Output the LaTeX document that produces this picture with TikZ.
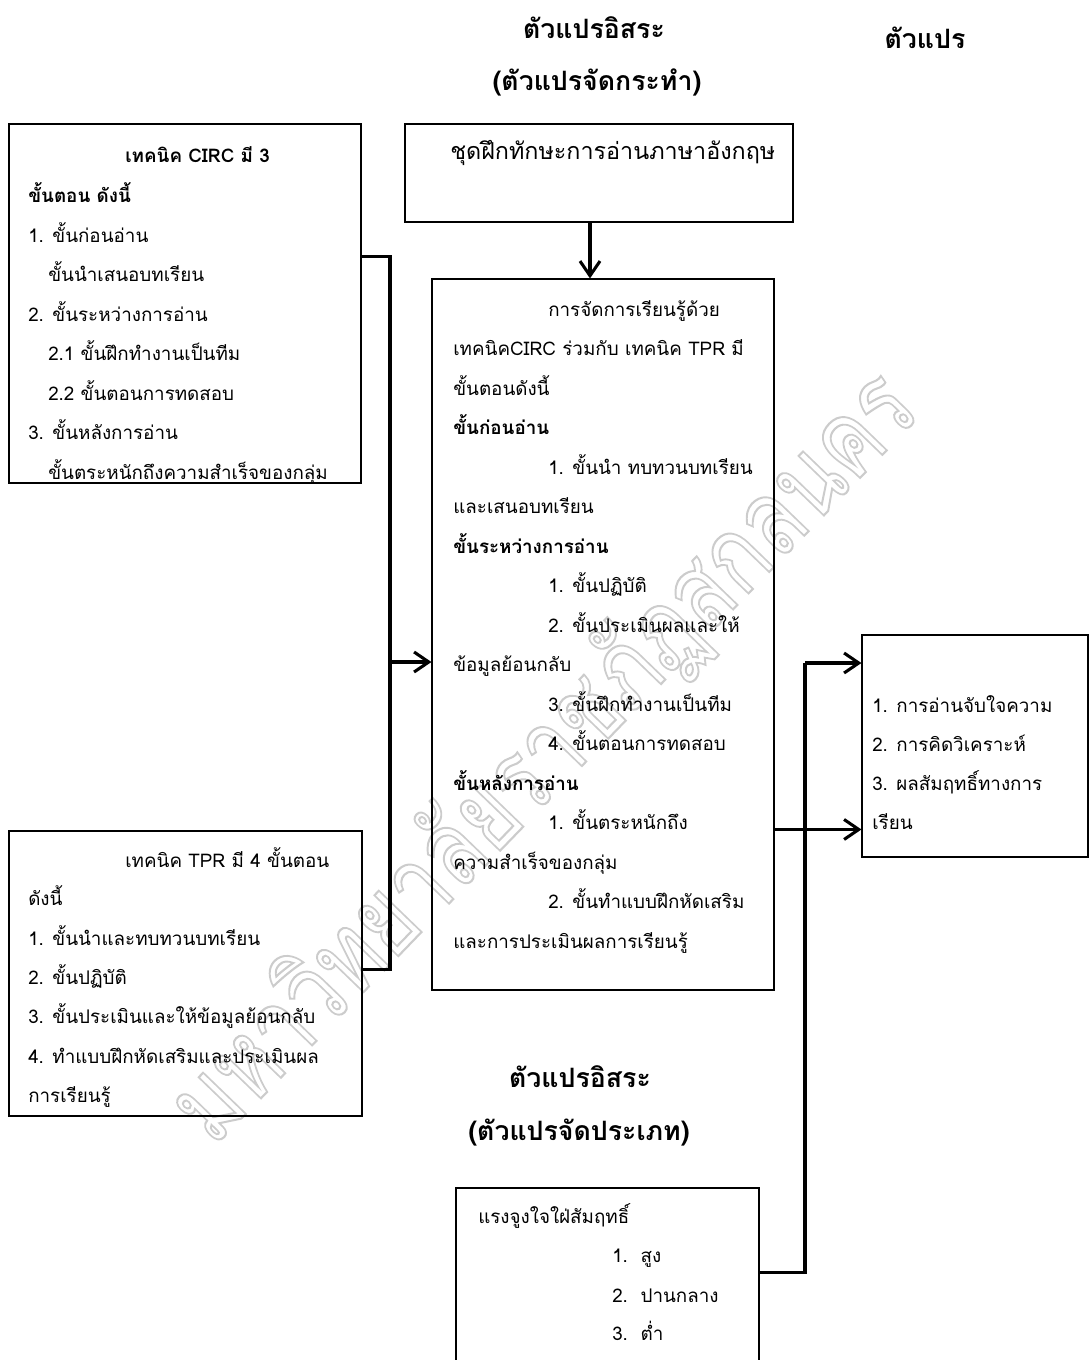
\documentclass[tikz,border=0pt]{standalone}
\usepackage{fontspec}
\newfontfamily\thai[Script=Thai]{Loma}
\usetikzlibrary{arrows.meta,calc,fit}
\tikzset{
  box/.style={draw=black,line width=0.8pt,inner sep=0pt},
  txt/.style={anchor=base west,inner sep=0pt,font=\thai\fontsize{14.1}{16}\selectfont},
  bigtxt/.style={anchor=base west,inner sep=0pt,font=\thai\fontsize{17.5}{20}\selectfont},
  head/.style={anchor=base,inner sep=0pt,font=\thai\bfseries\fontsize{20}{24}\selectfont},
  lk/.style={line width=2.3pt},
  arr/.style={line width=2.3pt,-{Straight Barb[length=11pt,width=15pt]}},
  wm/.style={inner sep=0pt,text=gray!40,font=\thai\fontsize{80}{90}\selectfont,rotate=46,xscale=0.78}
}
\newcommand\tl[4]{\node[txt] (#1) at (#2,#3) {#4};}
\begin{document}
\begin{tikzpicture}[x=0.75pt,y=-0.75pt]
\useasboundingbox (0,0) rectangle (1089,1360);
% watermark
\node[wm] (wmark) at (545,758) {\special{pdf:literal direct 1 Tr 1.6 w}มหาวิทยาลัยราชภัฏสกลนคร\special{pdf:literal direct 0 Tr}};
% headings
\node[head] (h1) at (594,38) {ตัวแปรอิสระ};
\node[head] (h2) at (597,90) {(ตัวแปรจัดกระทำ)};
\node[head] (h3) at (925,48) {ตัวแปร};
\node[head] (h4) at (580,1087) {ตัวแปรอิสระ};
\node[head] (h5) at (579,1140) {(ตัวแปรจัดประเภท)};
% boxes
\node[box,fit={(9,124)(361,483)}] (circ) {};
\node[box,fit={(405,124)(793,222)}] (top) {};
\node[box,fit={(432,279)(774,990)}] (main) {};
\node[box,fit={(9,831)(362,1116)}] (tpr) {};
\node[box,fit={(862,635)(1088,857)}] (out) {};
\node[box,fit={(456,1188)(759,1380)}] (mot) {};
% CIRC text
\tl{c1}{125}{162}{\bfseries เทคนิค CIRC มี 3}
\tl{c2}{28}{202}{\bfseries ขั้นตอน ดังนี้}
\tl{c3}{28}{242}{1. ขั้นก่อนอ่าน}
\tl{c4}{48}{281}{ขั้นนำเสนอบทเรียน}
\tl{c5}{28}{321}{2. ขั้นระหว่างการอ่าน}
\tl{c6}{48}{360}{2.1 ขั้นฝึกทำงานเป็นทีม}
\tl{c7}{48}{400}{2.2 ขั้นตอนการทดสอบ}
\tl{c8}{28}{439}{3. ขั้นหลังการอ่าน}
\tl{c9}{48}{479}{ขั้นตระหนักถึงความสำเร็จของกลุ่ม}
% top box text
\node[bigtxt] (s1) at (450,159) {ชุดฝึกทักษะการอ่านภาษาอังกฤษ};
% main text
\tl{m1}{548}{316}{การจัดการเรียนรู้ด้วย}
\tl{m2}{453}{355.5}{เทคนิคCIRC ร่วมกับ เทคนิค TPR มี}
\tl{m3}{453}{395}{ขั้นตอนดังนี้}
\tl{m4}{453}{434.5}{\bfseries ขั้นก่อนอ่าน}
\tl{m5}{548}{474}{1. ขั้นนำ ทบทวนบทเรียน}
\tl{m6}{453}{513.5}{และเสนอบทเรียน}
\tl{m7}{453}{553}{\bfseries ขั้นระหว่างการอ่าน}
\tl{m8}{548}{592.5}{1. ขั้นปฏิบัติ}
\tl{m9}{548}{632}{2. ขั้นประเมินผลและให้}
\tl{m10}{453}{671.5}{ข้อมูลย้อนกลับ}
\tl{m11}{548}{711}{3. ขั้นฝึกทำงานเป็นทีม}
\tl{m12}{548}{750.5}{4. ขั้นตอนการทดสอบ}
\tl{m13}{453}{790}{\bfseries ขั้นหลังการอ่าน}
\tl{m14}{548}{829.5}{1. ขั้นตระหนักถึง}
\tl{m15}{453}{869}{ความสำเร็จของกลุ่ม}
\tl{m16}{548}{908.5}{2. ขั้นทำแบบฝึกหัดเสริม}
\tl{m17}{453}{948}{และการประเมินผลการเรียนรู้}
% TPR text
\tl{t1}{125}{867}{เทคนิค TPR มี 4 ขั้นตอน}
\tl{t2}{28}{905}{ดังนี้}
\tl{t3}{28}{945}{1. ขั้นนำและทบทวนบทเรียน}
\tl{t4}{28}{984}{2. ขั้นปฏิบัติ}
\tl{t5}{28}{1023}{3. ขั้นประเมินและให้ข้อมูลย้อนกลับ}
\tl{t6}{28}{1063}{4. ทำแบบฝึกหัดเสริมและประเมินผล}
\tl{t7}{28}{1102}{การเรียนรู้}
% output text
\tl{o1}{872}{712}{1. การอ่านจับใจความ}
\tl{o2}{872}{751}{2. การคิดวิเคราะห์}
\tl{o3}{872}{790}{3. ผลสัมฤทธิ์ทางการ}
\tl{o4}{872}{829}{เรียน}
% motivation text
\tl{r1}{478}{1223}{แรงจูงใจใฝ่สัมฤทธิ์}
\tl{r2}{612}{1262}{1.\ \ สูง}
\tl{r3}{612}{1302}{2.\ \ ปานกลาง}
\tl{r4}{612}{1340}{3.\ \ ต่ำ}
% connectors
\coordinate (jl) at (390,662);
\coordinate (jr) at (805,663);
\coordinate (ax) at (590,0);
\draw[lk] ($(circ.north east)+(0,133)$) -| (jl);
\draw[lk] ($(tpr.north east)+(0,139)$) -| (jl);
\draw[arr] (jl) -- (jl -| main.west);
\draw[arr] (top.south -| ax) -- (main.north -| ax);
\draw[lk] ($(mot.north east)+(0,85)$) -| (jr);
\draw[arr] (jr) -- (jr -| out.west);
\draw[arr] ($(main.north east)+(0,551)$) coordinate (m2x) -- (m2x -| out.west);
\end{tikzpicture}
\end{document}
